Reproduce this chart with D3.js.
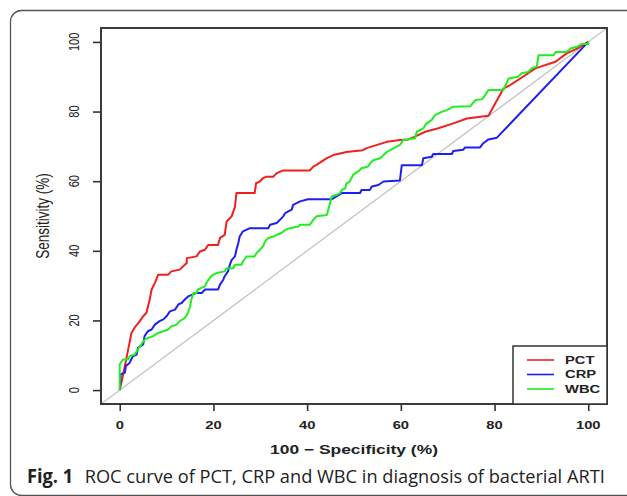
<!DOCTYPE html>
<html>
<head>
<meta charset="utf-8">
<script src="https://cdn.jsdelivr.net/npm/d3@7"></script>
<style>
  html, body { margin: 0; padding: 0; background: #fff; }
  svg { display: block; }
</style>
</head>
<body>
<div id="chart"></div>
<script>
// ROC points: [100 - specificity, sensitivity]
const pctPoints = [[0,0],[0.5,3],[1.1,6.9],[1.8,11.7],[2.5,16.4],[3.2,18],[4.3,19.8],[5,21.2],[5.7,22.2],[6.4,26],[6.8,28.9],[7.5,30.8],[8.2,33.1],[10.3,33.1],[11,34.1],[12.8,34.6],[14.3,36.5],[14.3,37.9],[16.4,38.4],[17.1,39.8],[18.2,40.3],[18.9,41.7],[21,41.7],[21.4,43.7],[22.4,44.6],[22.8,48.4],[23.9,49.9],[24.6,52.7],[24.9,56.6],[28.8,56.6],[29.1,59.4],[29.9,59.9],[30.6,60.9],[31.3,61.3],[32.8,61.3],[33.5,62.3],[34.9,63.1],[40.6,63.1],[41.3,64.2],[42,64.7],[44.2,66.6],[45.6,67.5],[48.4,68.4],[51.9,68.9],[52.7,69.5],[57,71.3],[59.8,71.8],[61.6,72],[63,72.8],[65.2,74.2],[68,75.2],[71.2,76.6],[74.1,78],[78.7,78.8],[81.9,86.6],[83.3,87.6],[85.5,89.5],[88.7,92.4],[93,94.3],[95.4,96.7],[97.6,98.1],[100,100]];

const crpPoints = [[0,0],[0.2,4.5],[1.1,5],[1.3,6.9],[2.1,7.8],[2.8,9.7],[3.6,10.2],[3.9,12.1],[5,13.1],[5.3,15.5],[6,16.9],[6.8,17.4],[7.5,18.8],[8.5,19.8],[9.3,20.3],[10,21.2],[10.7,22.6],[11.8,23.1],[12.5,24.6],[13.2,25],[13.9,26],[14.6,26.9],[16.4,27.9],[17.5,27.9],[18.2,28.9],[21,28.9],[21.4,30.3],[22.1,31.7],[22.4,32.7],[23.1,34.1],[23.5,36],[23.9,37.4],[24.6,38.4],[24.9,40.3],[25.3,42.2],[25.6,44.1],[26.3,45.6],[27.8,46.5],[31.7,46.5],[32.1,47.5],[33.5,48],[34.2,48.9],[34.9,49.9],[35.3,50.8],[36.7,51.8],[37,53.2],[38.5,54.2],[40.2,54.8],[45.2,54.8],[47.4,56.6],[51.3,56.6],[51.6,57.5],[53.4,57.5],[53.8,58.5],[55.2,58.9],[56.3,59.9],[59.8,60.2],[60.2,64.6],[64.5,64.6],[64.8,66.6],[66.6,67],[66.9,67.8],[70.9,67.8],[71.2,68.7],[73.3,69],[73.7,69.7],[76.9,69.7],[77.6,70.9],[78.7,72],[80.5,72.5],[100,100]];

const wbcPoints = [[0,0],[0,7.4],[0.7,8.8],[1.8,8.8],[2.1,9.7],[3.2,10.2],[3.9,11.7],[4.6,13.1],[5.3,14.5],[6.1,15],[7.1,15.5],[8.2,16.4],[9.3,16.9],[10.3,17.4],[11,18.3],[12.1,18.8],[12.8,19.8],[13.9,20.7],[14.6,22.2],[15,24.1],[15.3,26],[15.7,27.9],[16.4,27.9],[16.7,28.9],[18.2,29.8],[18.5,30.8],[19.2,32.2],[19.9,33.1],[20.7,33.6],[22.4,34.1],[22.8,35],[24.2,35],[24.6,36],[26,36],[26.3,37],[27.1,38.4],[28.8,38.4],[29.2,39.4],[29.9,40.3],[30.6,41.3],[31,42.7],[31.7,43.7],[32.8,44.1],[33.5,44.6],[34.5,45.1],[35.3,46],[36.3,46.5],[38.1,47],[38.5,47.5],[40.6,47.5],[41.3,48.9],[42,49.9],[44.2,50.3],[44.5,51.8],[44.9,53.7],[45.2,55.6],[46.3,56.1],[47,56.6],[47.4,57.5],[48.1,57.9],[48.4,59.4],[49.1,59.9],[49.8,61.8],[50.9,62.8],[51.6,63.7],[53,64.2],[53.4,65.1],[54.1,66],[55.6,66.6],[56.3,67.5],[57,68.4],[59.8,70.4],[60.5,71.8],[63,72.3],[63.4,74.2],[64.8,75.2],[65.5,76.6],[66.6,77.6],[67.3,79],[68.7,79.9],[69.8,80.4],[71.2,81.4],[74.8,81.5],[75.9,83.3],[77.3,83.5],[78,84.7],[78.7,86.2],[81.9,86.2],[83,89.5],[85,90],[85.8,91],[87.2,91.4],[87.9,92.4],[89,92.9],[89.4,96.2],[92.6,96.2],[93,97.1],[95.4,97.1],[96.2,98.1],[97.6,98.6],[98.6,99.4],[100,99.4],[100,100]];

const seriesNames = ["PCT", "CRP", "WBC"];
const seriesColors = ["#f21f1f", "#1f1ff2", "#1fee1f"];
const tickValues = [0, 20, 40, 60, 80, 100];
const xTitle = "100 \u2212 Specificity (%)";
const yTitle = "Sensitivity (%)";
const captionBold = "Fig. 1";
const captionText = "ROC curve of PCT, CRP and WBC in diagnosis of bacterial ARTI";

const W = 627, H = 496;
const SX = 1.34; // the R plot in the figure is stretched sideways
const rFont = "'Liberation Sans', Arial, Helvetica, sans-serif";

const svg = d3.select("#chart").append("svg")
    .attr("width", W)
    .attr("height", H);

// outer rounded frame of the figure
svg.append("rect")
    .attr("x", 10.5).attr("y", 10.5)
    .attr("width", 700).attr("height", 485)
    .attr("rx", 11)
    .attr("fill", "none")
    .attr("stroke", "#555")
    .attr("stroke-width", 1.3);

const x = d3.scaleLinear().domain([-4, 104]).range([101, 607]);
const y = d3.scaleLinear().domain([-4, 104]).range([404, 28]);

const plot = svg.append("g");

// reference diagonal, clipped to the box
plot.append("clipPath").attr("id", "box-clip")
    .append("rect")
    .attr("x", x(-4)).attr("y", y(104))
    .attr("width", x(104) - x(-4)).attr("height", y(-4) - y(104));

plot.append("line")
    .attr("clip-path", "url(#box-clip)")
    .attr("x1", x(-4)).attr("y1", y(-4))
    .attr("x2", x(104)).attr("y2", y(104))
    .attr("stroke", "#c4c4c4")
    .attr("stroke-width", 1.3);

const line = d3.line()
    .x(d => x(d[0]))
    .y(d => y(d[1]));

[pctPoints, crpPoints, wbcPoints].forEach((pts, i) => {
    plot.append("path")
        .datum(pts)
        .attr("d", line)
        .attr("fill", "none")
        .attr("stroke", seriesColors[i])
        .attr("stroke-width", 2)
        .attr("stroke-linejoin", "round");
});

// box around the plot area
plot.append("rect")
    .attr("x", x(-4)).attr("y", y(104))
    .attr("width", x(104) - x(-4)).attr("height", y(-4) - y(104))
    .attr("fill", "none")
    .attr("stroke", "#3a3a3a")
    .attr("stroke-width", 2);

// axes: ticks only, labels added below so they can be stretched like the figure
const yAxis = svg.append("g")
    .attr("transform", `translate(${x(-4)},0)`)
    .call(d3.axisLeft(y).tickValues(tickValues).tickSize(8).tickFormat(""));
const xAxis = svg.append("g")
    .attr("transform", `translate(0,${y(-4)})`)
    .call(d3.axisBottom(x).tickValues(tickValues).tickSize(7).tickFormat(""));
[xAxis, yAxis].forEach(a => {
    a.select(".domain").remove();
    a.selectAll(".tick line").attr("stroke", "#333").attr("stroke-width", 1.6);
});

svg.append("g").selectAll("text")
    .data(tickValues)
    .enter().append("text")
    .attr("transform", d => `translate(74,${y(d)}) scale(${SX},1) rotate(-90)`)
    .attr("text-anchor", "middle")
    .attr("dy", "0.35em")
    .attr("font-family", rFont)
    .attr("font-size", 11)
    .attr("fill", "#222")
    .text(d => d);

svg.append("g").selectAll("text")
    .data(tickValues)
    .enter().append("text")
    .attr("transform", d => `translate(${x(d)},429) scale(${SX},1)`)
    .attr("text-anchor", "middle")
    .attr("font-family", rFont)
    .attr("font-size", 11)
    .attr("font-weight", "bold")
    .attr("fill", "#222")
    .text(d => d);

svg.append("text")
    .attr("transform", `translate(${x(50)},453.5) scale(${SX},1)`)
    .attr("text-anchor", "middle")
    .attr("font-family", rFont)
    .attr("font-size", 13)
    .attr("font-weight", "bold")
    .attr("fill", "#222")
    .text(xTitle);

svg.append("text")
    .attr("transform", `translate(43,${y(50)}) scale(${SX},1) rotate(-90)`)
    .attr("text-anchor", "middle")
    .attr("dy", "0.35em")
    .attr("font-family", rFont)
    .attr("font-size", 13.5)
    .attr("fill", "#222")
    .text(yTitle);

// legend in the bottom right corner of the box
const legend = svg.append("g");
legend.append("rect")
    .attr("x", 513).attr("y", 346)
    .attr("width", x(104) - 513).attr("height", y(-4) - 346)
    .attr("fill", "#fff")
    .attr("stroke", "#333")
    .attr("stroke-width", 1.5);

const legendItem = legend.selectAll("g.item")
    .data(seriesNames)
    .enter().append("g")
    .attr("class", "item")
    .attr("transform", (d, i) => `translate(0,${360 + i * 14.5})`);

legendItem.append("line")
    .attr("x1", 527).attr("x2", 554)
    .attr("stroke", (d, i) => seriesColors[i])
    .attr("stroke-width", 1.6);

legendItem.append("text")
    .attr("transform", `translate(565,0) scale(${SX},1)`)
    .attr("dy", "0.36em")
    .attr("font-family", rFont)
    .attr("font-size", 11)
    .attr("font-weight", "bold")
    .attr("fill", "#222")
    .text(d => d);

// caption under the figure, fitted to the same width as in the journal layout
const cap = svg.append("g");
const capText = cap.append("text")
    .attr("x", 0).attr("y", 0)
    .attr("font-family", "'Open Sans', 'Noto Sans', sans-serif")
    .attr("font-size", 19)
    .attr("fill", "#222");
capText.append("tspan").attr("font-weight", "bold").text(captionBold);
capText.append("tspan").attr("dx", 12).text(captionText);
const capW = capText.node().getComputedTextLength() + 12;
cap.attr("transform", `translate(27,483) scale(${578 / capW},1)`);
</script>
</body>
</html>
